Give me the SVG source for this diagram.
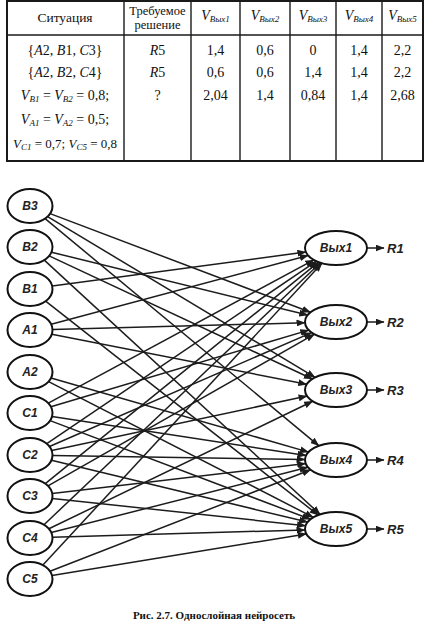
<svg xmlns="http://www.w3.org/2000/svg" width="425" height="622" viewBox="0 0 425 622">
<style>
.tb{fill:none;stroke:#1a1a1a;stroke-width:2}
.tl{stroke:#1a1a1a;stroke-width:1.4}
.t{font-family:"Liberation Serif","Times New Roman",serif;font-size:14px;fill:#111;text-anchor:middle}
.i{font-style:italic}
.sub{font-size:9px;font-style:italic}
.n{fill:#fff;stroke:#111;stroke-width:2}
.nl{font-family:"Liberation Sans",Arial,sans-serif;font-weight:bold;font-style:italic;font-size:12px;fill:#222;text-anchor:middle}
.rl{font-family:"Liberation Sans",Arial,sans-serif;font-weight:bold;font-style:italic;font-size:13px;fill:#222}
.c line{stroke:#1c1c1c;stroke-width:1.5;marker-end:url(#ah)}
.cap{font-family:"Liberation Serif","Times New Roman",serif;font-weight:bold;font-size:11px;fill:#111;text-anchor:middle}
</style>
<defs>
<marker id="ah" markerWidth="9" markerHeight="7" refX="8.5" refY="3.5" orient="auto" markerUnits="userSpaceOnUse">
<path d="M0,0 L9,3.5 L0,7 z" fill="#1c1c1c"/>
</marker>
</defs>
<rect width="425" height="622" fill="#fff"/>
<g id="table">
<rect class="tb" x="7" y="1" width="416" height="160"/>
<line class="tl" x1="7" y1="35" x2="423" y2="35"/>
<line class="tl" x1="124" y1="1" x2="124" y2="161"/>
<line class="tl" x1="191" y1="1" x2="191" y2="161"/>
<line class="tl" x1="240" y1="1" x2="240" y2="161"/>
<line class="tl" x1="290" y1="1" x2="290" y2="161"/>
<line class="tl" x1="336" y1="1" x2="336" y2="161"/>
<line class="tl" x1="382" y1="1" x2="382" y2="161"/>
<text class="t" x="65" y="22" style="font-size:13.5px">Ситуация</text>
<text class="t" x="157.5" y="15" style="font-size:12.5px">Требуемое</text>
<text class="t" x="157.5" y="29" style="font-size:12.5px">решение</text>
<text class="t" x="215.5" y="20"><tspan class="i">V</tspan><tspan class="sub" dy="2">Вых1</tspan></text>
<text class="t" x="265" y="20"><tspan class="i">V</tspan><tspan class="sub" dy="2">Вых2</tspan></text>
<text class="t" x="313" y="20"><tspan class="i">V</tspan><tspan class="sub" dy="2">Вых3</tspan></text>
<text class="t" x="359" y="20"><tspan class="i">V</tspan><tspan class="sub" dy="2">Вых4</tspan></text>
<text class="t" x="402.5" y="20"><tspan class="i">V</tspan><tspan class="sub" dy="2">Вых5</tspan></text>
<text class="t" x="65" y="55">{<tspan class="i">A</tspan>2, <tspan class="i">B</tspan>1, <tspan class="i">C</tspan>3}</text>
<text class="t" x="157.5" y="55"><tspan class="i">R</tspan>5</text>
<text class="t" x="215.5" y="55">1,4</text>
<text class="t" x="265" y="55">0,6</text>
<text class="t" x="313" y="55">0</text>
<text class="t" x="359" y="55">1,4</text>
<text class="t" x="402.5" y="55">2,2</text>
<text class="t" x="65" y="77">{<tspan class="i">A</tspan>2, <tspan class="i">B</tspan>2, <tspan class="i">C</tspan>4}</text>
<text class="t" x="157.5" y="77"><tspan class="i">R</tspan>5</text>
<text class="t" x="215.5" y="77">0,6</text>
<text class="t" x="265" y="77">0,6</text>
<text class="t" x="313" y="77">1,4</text>
<text class="t" x="359" y="77">1,4</text>
<text class="t" x="402.5" y="77">2,2</text>
<text class="t" x="65" y="100"><tspan class="i">V</tspan><tspan class="sub" dy="2">B1</tspan><tspan dy="-2"> = </tspan><tspan class="i">V</tspan><tspan class="sub" dy="2">B2</tspan><tspan dy="-2"> = 0,8;</tspan></text>
<text class="t" x="157.5" y="100">?</text>
<text class="t" x="215.5" y="100">2,04</text>
<text class="t" x="265" y="100">1,4</text>
<text class="t" x="313" y="100">0,84</text>
<text class="t" x="359" y="100">1,4</text>
<text class="t" x="402.5" y="100">2,68</text>
<text class="t" x="65" y="124"><tspan class="i">V</tspan><tspan class="sub" dy="2">A1</tspan><tspan dy="-2"> = </tspan><tspan class="i">V</tspan><tspan class="sub" dy="2">A2</tspan><tspan dy="-2"> = 0,5;</tspan></text>
<text class="t" x="65" y="148" style="font-size:13px"><tspan class="i">V</tspan><tspan class="sub" dy="2">C1</tspan><tspan dy="-2"> = 0,7; </tspan><tspan class="i">V</tspan><tspan class="sub" dy="2">C5</tspan><tspan dy="-2"> = 0,8</tspan></text>
</g>
<g id="connectors" class="c">
<line x1="51.2" y1="324.3" x2="308.2" y2="255.5"/>
<line x1="52.2" y1="286.0" x2="305.9" y2="252.0"/>
<line x1="48.3" y1="403.1" x2="313.9" y2="259.9"/>
<line x1="46.8" y1="443.7" x2="316.5" y2="261.2"/>
<line x1="45.3" y1="483.6" x2="318.6" y2="262.1"/>
<line x1="44.0" y1="524.7" x2="320.5" y2="262.7"/>
<line x1="42.9" y1="565.1" x2="322.0" y2="263.2"/>
<line x1="52.5" y1="329.4" x2="305.0" y2="322.8"/>
<line x1="51.4" y1="252.2" x2="307.7" y2="315.1"/>
<line x1="50.1" y1="213.6" x2="310.5" y2="312.3"/>
<line x1="50.9" y1="406.8" x2="308.8" y2="330.1"/>
<line x1="49.5" y1="446.5" x2="311.7" y2="332.6"/>
<line x1="48.0" y1="485.8" x2="314.5" y2="334.2"/>
<line x1="51.8" y1="334.3" x2="306.8" y2="384.3"/>
<line x1="49.1" y1="255.9" x2="312.4" y2="379.0"/>
<line x1="47.6" y1="216.6" x2="315.1" y2="377.4"/>
<line x1="51.7" y1="450.4" x2="307.1" y2="396.1"/>
<line x1="48.9" y1="528.8" x2="312.7" y2="401.2"/>
<line x1="51.0" y1="378.0" x2="308.6" y2="452.1"/>
<line x1="45.1" y1="218.6" x2="318.9" y2="445.8"/>
<line x1="52.0" y1="416.4" x2="306.1" y2="455.4"/>
<line x1="52.5" y1="455.4" x2="305.0" y2="459.5"/>
<line x1="52.2" y1="493.4" x2="305.7" y2="463.6"/>
<line x1="51.3" y1="532.6" x2="307.9" y2="467.2"/>
<line x1="50.0" y1="571.2" x2="310.7" y2="469.8"/>
<line x1="48.6" y1="381.6" x2="313.4" y2="517.4"/>
<line x1="45.6" y1="301.2" x2="318.2" y2="515.1"/>
<line x1="44.3" y1="260.1" x2="320.1" y2="514.4"/>
<line x1="50.1" y1="420.6" x2="310.5" y2="519.3"/>
<line x1="51.4" y1="460.2" x2="307.6" y2="522.1"/>
<line x1="52.3" y1="498.4" x2="305.6" y2="525.7"/>
<line x1="52.5" y1="537.3" x2="305.0" y2="529.9"/>
<line x1="52.0" y1="575.4" x2="306.3" y2="533.9"/>
<line x1="367" y1="248" x2="384" y2="248"/>
<line x1="367" y1="322" x2="384" y2="322"/>
<line x1="367" y1="390" x2="384" y2="390"/>
<line x1="367" y1="460" x2="384" y2="460"/>
<line x1="367" y1="529" x2="384" y2="529"/>
</g>
<g id="B3"><ellipse class="n" cx="30" cy="206" rx="22.5" ry="17"/><text class="nl" x="30" y="210">B3</text></g>
<g id="B2"><ellipse class="n" cx="30" cy="247" rx="22.5" ry="17"/><text class="nl" x="30" y="251">B2</text></g>
<g id="B1"><ellipse class="n" cx="30" cy="289" rx="22.5" ry="17"/><text class="nl" x="30" y="293">B1</text></g>
<g id="A1"><ellipse class="n" cx="30" cy="330" rx="22.5" ry="17"/><text class="nl" x="30" y="334">A1</text></g>
<g id="A2"><ellipse class="n" cx="30" cy="372" rx="22.5" ry="17"/><text class="nl" x="30" y="376">A2</text></g>
<g id="C1"><ellipse class="n" cx="30" cy="413" rx="22.5" ry="17"/><text class="nl" x="30" y="417">C1</text></g>
<g id="C2"><ellipse class="n" cx="30" cy="455" rx="22.5" ry="17"/><text class="nl" x="30" y="459">C2</text></g>
<g id="C3"><ellipse class="n" cx="30" cy="496" rx="22.5" ry="17"/><text class="nl" x="30" y="500">C3</text></g>
<g id="C4"><ellipse class="n" cx="30" cy="538" rx="22.5" ry="17"/><text class="nl" x="30" y="542">C4</text></g>
<g id="C5"><ellipse class="n" cx="30" cy="579" rx="22.5" ry="17"/><text class="nl" x="30" y="583">C5</text></g>
<g id="Out1"><ellipse class="n" cx="336" cy="248" rx="31" ry="17"/><text class="nl" x="336" y="252">Вых1</text></g>
<g id="Out2"><ellipse class="n" cx="336" cy="322" rx="31" ry="17"/><text class="nl" x="336" y="326">Вых2</text></g>
<g id="Out3"><ellipse class="n" cx="336" cy="390" rx="31" ry="17"/><text class="nl" x="336" y="394">Вых3</text></g>
<g id="Out4"><ellipse class="n" cx="336" cy="460" rx="31" ry="17"/><text class="nl" x="336" y="464">Вых4</text></g>
<g id="Out5"><ellipse class="n" cx="336" cy="529" rx="31" ry="17"/><text class="nl" x="336" y="533">Вых5</text></g>
<g id="R1"><text class="rl" x="387" y="253">R1</text></g>
<g id="R2"><text class="rl" x="387" y="327">R2</text></g>
<g id="R3"><text class="rl" x="387" y="395">R3</text></g>
<g id="R4"><text class="rl" x="387" y="465">R4</text></g>
<g id="R5"><text class="rl" x="387" y="534">R5</text></g>
<text class="cap" x="214" y="619">Рис. 2.7. Однослойная нейросеть</text>
</svg>
